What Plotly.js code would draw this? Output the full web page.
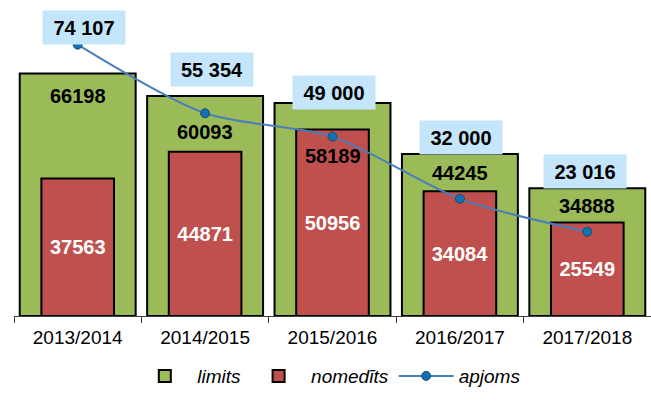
<!DOCTYPE html>
<html><head><meta charset="utf-8">
<script src="https://cdn.plot.ly/plotly-3.0.1.min.js"></script>
<style>html,body{margin:0;padding:0;background:#fff}#c{width:651px;height:408px}</style>
</head><body><div id="c"></div>
<script>
const categories = ['2013/2014','2014/2015','2015/2016','2016/2017','2017/2018'];
const limits = [66198, 60093, 58189, 44245, 34888];
const nomedits = [37563, 44871, 50956, 34084, 25549];
const apjoms = [74107, 55354, 49000, 32000, 23016];
const apjomsLabels = ['74 107','55 354','49 000','32 000','23 016'];

const FONT = 'Arial, "Liberation Sans", sans-serif';

const traces = [
  {type:'bar', name:'limits', x:categories, y:limits, width:0.91,
   marker:{color:'#9bbb59', line:{color:'#000', width:2}}, hoverinfo:'skip'},
  {type:'bar', name:'nomedīts', x:categories, y:nomedits, width:0.57,
   marker:{color:'#c0504d', line:{color:'#000', width:2}},
   text:nomedits.map(String), textposition:'inside', insidetextanchor:'middle',
   textfont:{family:FONT, size:20, color:'#fff', weight:'bold'}, textangle:0, hoverinfo:'skip'},
  {type:'scatter', mode:'lines+markers', name:'apjoms', x:categories, y:apjoms,
   line:{color:'#4a7ebb', width:2, shape:'spline', smoothing:0.8},
   marker:{color:'#1170b8', size:9, line:{color:'#1f4e5a', width:1}}, hoverinfo:'skip'}
];

const limitShift = [-22, -36, -53, -19, -18];
const apShiftY = [17, 44, 44, 61, 60];
const apShiftX = [6, 7, 1, 1, -2];

const annotations = [];
categories.forEach((c,i)=>{
  annotations.push({x:c, y:limits[i], xref:'x', yref:'y', text:String(limits[i]),
    showarrow:false, yshift:limitShift[i], yanchor:'middle',
    font:{family:FONT, size:20, color:'#000', weight:'bold'}});
  annotations.push({x:c, y:apjoms[i], xref:'x', yref:'y', text:apjomsLabels[i],
    showarrow:false, yshift:apShiftY[i], xshift:apShiftX[i], yanchor:'middle',
    width:80, height:31, bgcolor:'#c4e5fa',
    font:{family:FONT, size:20, color:'#000', weight:'bold'}});
});

const layout = {
  width:651, height:408,
  margin:{l:14, r:0, t:0, b:92},
  paper_bgcolor:'#fff', plot_bgcolor:'#fff',
  barmode:'overlay', showlegend:true,
  xaxis:{type:'category', showgrid:false, zeroline:false, showline:true, linecolor:'#404040', linewidth:1,
    ticks:'outside', tickson:'boundaries', ticklen:6, tickcolor:'#404040', ticklabelstandoff:4,
    tickfont:{family:FONT, size:19, color:'#000'}, range:[-0.5,4.5], fixedrange:true},
  yaxis:{range:[0,86300], visible:false, showgrid:false, zeroline:false, fixedrange:true},
  legend:{orientation:'h', x:0.495, xanchor:'center', y:-0.19, yanchor:'middle', itemwidth:55,
    font:{family:FONT, size:19, color:'#000', style:'italic'}, traceorder:'normal'},
  annotations:annotations
};

Plotly.newPlot('c', traces, layout, {displayModeBar:false, staticPlot:true});
</script></body></html>
